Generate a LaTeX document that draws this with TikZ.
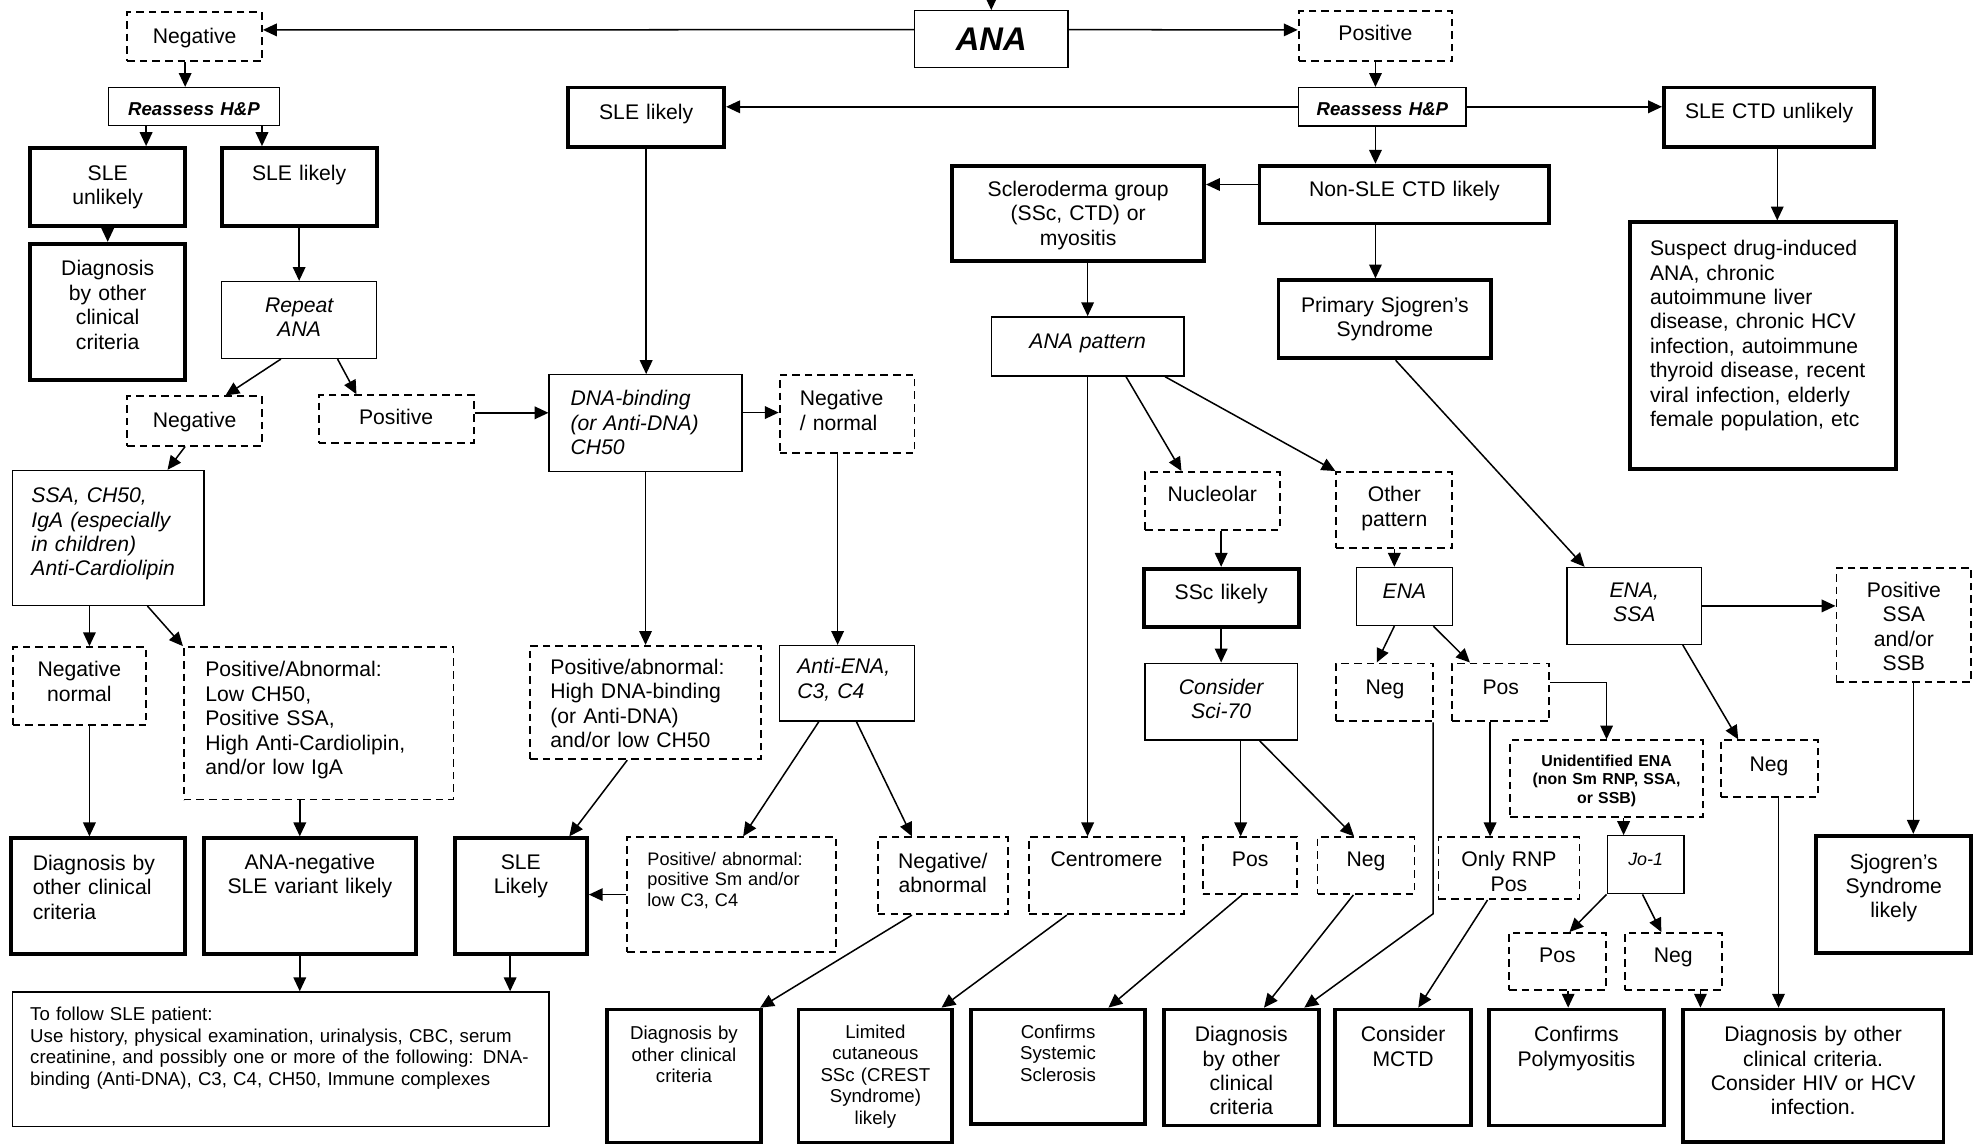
\documentclass[tikz,border=0pt]{standalone}
\usepackage{fontspec}
\setmainfont{Liberation Sans}
\usetikzlibrary{arrows.meta}

\begin{document}
\begin{tikzpicture}[x = 0.5pt, y = -0.5pt,
    box/.style = {draw, line width = 0.55pt, inner sep = 0pt, anchor = north, align = center,
        font = \fontsize{8.4}{9.7}\selectfont},
    boldbox/.style = {box, line width = 1.5pt},
    dashbox/.style = {box, line width = 0.75pt, dash pattern = on 3pt off 2pt},
    dims/.style n args = {3}{text width = #1, text height = #2, text depth = #3},
    it/.style = {font = \fontsize{8.4}{9.7}\selectfont\itshape},
    sm/.style = {font = \fontsize{7.4}{8.5}\selectfont},
    hp/.style = {font = \fontsize{7.4}{8.5}\selectfont\bfseries\itshape},
    arr/.style = {-{Triangle[length = 5.5pt, width = 5pt]}, line width = 0.6pt}]
    \useasboundingbox (0,0) rectangle (1568,908);

    \coordinate (start) at (787,0);
    \node (ana) at (787,8) [box, dims = {61pt}{15.6pt}{6.9pt}, font = \fontsize{13}{15}\selectfont\bfseries\itshape] {ANA};
    \node (negtop) at (154.5,9) [dashbox, dims = {53.5pt}{12.25pt}{7.25pt}] {Negative};
    \node (postop) at (1092,8) [dashbox, dims = {61pt}{11.75pt}{8.25pt}] {Positive};
    \node (reasl) at (154,69) [box, hp, dims = {68pt}{11pt}{4pt}] {Reassess H\&P};
    \node (reasr) at (1097.5,69) [box, hp, dims = {66.5pt}{11pt}{4.25pt}] {Reassess H\&P};
    \node (slelc) at (513,68) [boldbox, dims = {62pt}{12.75pt}{10.75pt}] {SLE likely};
    \node (slectd) at (1404.5,68) [boldbox, dims = {83.5pt}{12.25pt}{11.25pt}] {SLE CTD unlikely};

    \node (sleun) at (85.5,116) [boldbox, dims = {61.5pt}{12.75pt}{18.25pt}] {SLE\\unlikely};
    \node (slell) at (237.5,116) [boldbox, dims = {61.5pt}{12.75pt}{18.25pt}] {SLE likely};
    \node (diagl) at (85.5,192) [boldbox, dims = {61.5pt}{12.75pt}{41.25pt}] {Diagnosis\\by other\\clinical\\criteria};
    \node (repeat) at (237.5,223) [box, it, dims = {61.5pt}{12.25pt}{18.25pt}] {Repeat\\ANA};
    \node (negmid) at (154.5,314) [dashbox, dims = {53.5pt}{12.25pt}{7.25pt}] {Negative};
    \node (posmid) at (314.5,313) [dashbox, dims = {61.5pt}{11.75pt}{7.25pt}] {Positive};
    \node (dna) at (512.5,297) [box, it, align = left, inner xsep = 8.5pt, dims = {59.5pt}{12.25pt}{26.25pt}] {DNA-binding\\(or Anti-DNA)\\CH50};
    \node (negnorm) at (672.5,297) [dashbox, align = left, inner xsep = 8pt, dims = {37.5pt}{12.25pt}{18.75pt}] {Negative\\/ normal};
    \node (ssa) at (86,373) [box, it, align = left, inner xsep = 7.5pt, dims = {61pt}{12.75pt}{40.75pt}] {SSA, CH50,\\IgA (especially\\in children)\\Anti-Cardiolipin};
    \node (negnormal) at (63,513) [dashbox, dims = {53pt}{11.75pt}{19.25pt}] {Negative\\normal};
    \node (posabn) at (253,513) [dashbox, align = left, inner xsep = 8.5pt, dims = {90pt}{11.75pt}{48.75pt}] {Positive/Abnormal:\\Low CH50,\\Positive SSA,\\High Anti-Cardiolipin,\\and/or low IgA};
    \node (posdna) at (512.5,512) [dashbox, align = left, inner xsep = 8pt, dims = {75.5pt}{11.25pt}{33.75pt}] {Positive/abnormal:\\High DNA-binding\\(or Anti-DNA)\\and/or low CH50};
    \node (antiena) at (672.5,512) [box, it, align = left, inner xsep = 7pt, dims = {39.5pt}{11.25pt}{18.75pt}] {Anti-ENA,\\C3, C4};

    \node (diagbl) at (78,664) [boldbox, align = left, inner xsep = 8.5pt, dims = {52pt}{12.75pt}{33.25pt}] {Diagnosis by\\other clinical\\criteria};
    \node (ananeg) at (246,664) [boldbox, dims = {84pt}{12.25pt}{33.75pt}] {ANA-negative\\SLE variant likely};
    \node (slelk) at (413.5,664) [boldbox, dims = {52.5pt}{12.25pt}{33.75pt}] {SLE\\Likely};
    \node (possm) at (581,664) [dashbox, align = left, inner xsep = 8pt, dims = {67pt}{11pt}{34.5pt}, font = \fontsize{7.2}{8.3}\selectfont] {Positive/ abnormal:\\positive Sm and/or\\low C3, C4};
    \node (negabn) at (748.5,664) [dashbox, dims = {51.5pt}{12.25pt}{18.25pt}] {Negative/\\abnormal};
    \node (centro) at (878.5,664) [dashbox, dims = {61.5pt}{11.75pt}{18.75pt}] {Centromere};
    \node (posci) at (992.5,664) [dashbox, dims = {37.5pt}{11.75pt}{10.75pt}] {Pos};
    \node (negsci) at (1084.5,664) [dashbox, dims = {38.5pt}{11.75pt}{10.75pt}] {Neg};
    \node (onlyrnp) at (1198,664) [dashbox, dims = {56pt}{11.75pt}{12.75pt}] {Only RNP\\Pos};
    \node (jo1) at (1306.5,663) [box, dims = {30.5pt}{11.75pt}{11.25pt}, font = \fontsize{7.1}{8}\selectfont\itshape] {Jo-1};
    \node (posjo) at (1236.5,740) [dashbox, dims = {38.5pt}{11.75pt}{10.75pt}] {Pos};
    \node (negjo) at (1328.5,740) [dashbox, dims = {38.5pt}{11.75pt}{10.75pt}] {Neg};
    \node (sjolk) at (1503.5,662) [boldbox, dims = {61.5pt}{13.25pt}{33.25pt}] {Sjogren’s\\Syndrome\\likely};

    \node (follow) at (223,787) [box, sm, align = left, inner xsep = 7pt, dims = {199pt}{11.5pt}{42pt}] {To follow SLE patient:\\Use history, physical examination, urinalysis, CBC, serum\\creatinine, and possibly one or more of the following: DNA-\\binding (Anti-DNA), C3, C4, CH50, Immune complexes};
    \node (diagb2) at (543,800) [boldbox, sm, dims = {61pt}{12pt}{41pt}] {Diagnosis by\\other clinical\\criteria};
    \node (limited) at (695,800) [boldbox, sm, dims = {61pt}{11.5pt}{41.5pt}] {Limited\\cutaneous\\SSc (CREST\\Syndrome)\\likely};
    \node (confss) at (840,800) [boldbox, sm, dims = {69pt}{11.5pt}{34pt}] {Confirms\\Systemic\\Sclerosis};
    \node (diagb4) at (985.5,800) [boldbox, dims = {61.5pt}{12.75pt}{33.25pt}] {Diagnosis\\by other\\clinical\\criteria};
    \node (mctd) at (1114,800) [boldbox, dims = {54pt}{12.75pt}{33.25pt}] {Consider\\MCTD};
    \node (confpm) at (1251.5,800) [boldbox, dims = {69.5pt}{12.75pt}{33.25pt}] {Confirms\\Polymyositis};
    \node (diaghiv) at (1439.5,800) [boldbox, dims = {103.5pt}{12.75pt}{39.75pt}] {Diagnosis by other\\clinical criteria.\\Consider HIV or HCV\\infection.};

    \node (nonsle) at (1115,130) [boldbox, dims = {115pt}{12.25pt}{10.75pt}] {Non-SLE CTD likely};
    \node (sclero) at (856,130) [boldbox, dims = {100pt}{12.25pt}{25.75pt}] {Scleroderma group\\(SSc, CTD) or\\myositis};
    \node (anapat) at (863.5,251) [box, it, dims = {76.5pt}{12.75pt}{10.75pt}] {ANA pattern};
    \node (primsj) at (1099.5,221) [boldbox, dims = {84.5pt}{12.75pt}{18.25pt}] {Primary Sjogren’s\\Syndrome};
    \node (suspect) at (1399.5,175) [boldbox, align = left, inner xsep = 8pt, dims = {89.5pt}{13.25pt}{84.75pt}] {Suspect drug-induced\\ANA, chronic\\autoimmune liver\\disease, chronic HCV\\infection, autoimmune\\thyroid disease, recent\\viral infection, elderly\\female population, etc};
    \node (nucleo) at (962.5,374) [dashbox, dims = {53.5pt}{11.75pt}{11.25pt}] {Nucleolar};
    \node (other) at (1107,374) [dashbox, dims = {46pt}{11.75pt}{18.25pt}] {Other\\pattern};
    \node (ssclk) at (969.5,450) [boldbox, dims = {61.5pt}{12.25pt}{10.75pt}] {SSc likely};
    \node (sci70) at (969.5,526) [box, it, dims = {60.5pt}{12.25pt}{18.25pt}] {Consider\\Sci-70};
    \node (ena) at (1115,450) [box, it, dims = {38pt}{12.25pt}{10.75pt}] {ENA};
    \node (negena) at (1099.5,526) [dashbox, dims = {38.5pt}{12.25pt}{10.75pt}] {Neg};
    \node (posena) at (1191.5,526) [dashbox, dims = {38.5pt}{12.25pt}{10.75pt}] {Pos};
    \node (unid) at (1275.5,587) [dashbox, dims = {76.5pt}{10.25pt}{20.25pt}, font = \fontsize{6.3}{7.4}\selectfont\bfseries] {Unidentified ENA\\(non Sm RNP, SSA,\\or SSB)};
    \node (enassa) at (1297.5,450) [box, it, dims = {53.5pt}{11.75pt}{18.75pt}] {ENA,\\SSA};
    \node (posssa) at (1511.5,450) [dashbox, dims = {53.5pt}{11.75pt}{33.75pt}] {Positive\\SSA\\and/or\\SSB};
    \node (negssa) at (1404.5,587) [dashbox, dims = {38.5pt}{12.25pt}{10.25pt}] {Neg};

    \draw [arr] (start) -- (ana.north);
    \draw [arr] ([yshift = 3.75pt]ana.west) -- ([yshift = 2.75pt]negtop.east);
    \draw [arr] ([yshift = 3.75pt]ana.east) -- ([yshift = 2.5pt]postop.west);
    \draw [arr] ([xshift = -3.75pt]negtop.south) -- ([xshift = -3.75pt]negtop.south |- reasl.north);
    \draw [arr] (postop.south) -- (postop.south |- reasr.north);
    \draw [arr] ([xshift = -19pt]reasl.south) -- ([xshift = -19pt]reasl.south |- sleun.north);
    \draw [arr] ([xshift = 27pt]reasl.south) -- ([xshift = 27pt]reasl.south |- slell.north);
    \draw [arr] (sleun.south) -- (diagl.north);
    \draw [arr] (slell.south) -- (repeat.north);
    \draw [arr] ([xshift = -7.25pt]repeat.south) -- ([xshift = 12.25pt]negmid.north);
    \draw [arr] ([xshift = 15.25pt]repeat.south) -- ([xshift = -15.75pt]posmid.north);
    \draw [arr] ([yshift = 2.5pt]posmid.east) -- ([yshift = 2.5pt]posmid.east -| dna.west);
    \draw [arr] ([yshift = 4.25pt]dna.east) -- ([yshift = 4.25pt]dna.east -| negnorm.west);
    \draw [arr] (slelc.south) -- (slelc.south |- dna.north);
    \draw [arr] ([xshift = -3.75pt]negmid.south) -- ([xshift = 23.5pt]ssa.north);
    \draw [arr] ([xshift = -7.5pt]ssa.south) -- ([xshift = -7.5pt]ssa.south |- negnormal.north);
    \draw [arr] ([xshift = 15.5pt]ssa.south) -- (posabn.north west);
    \draw [arr] (dna.south) -- (posdna.north);
    \draw [arr] ([xshift = -3.75pt]negnorm.south) -- ([xshift = -3.75pt]antiena.north);
    \draw [arr] ([xshift = 4pt]negnormal.south) -- ([xshift = 4pt]negnormal.south |- diagbl.north);
    \draw [arr] ([xshift = -4pt]ananeg.north |- posabn.south) -- ([xshift = -4pt]ananeg.north);
    \draw [arr] ([xshift = -7.25pt]posdna.south) -- ([xshift = 19.25pt]slelk.north);
    \draw [arr] (possm.west) -- (possm.west -| slelk.east);
    \draw [arr] ([xshift = -11.25pt]antiena.south) -- ([xshift = 4.5pt]possm.north);
    \draw [arr] ([xshift = 3.75pt]antiena.south) -- ([xshift = -12.25pt]negabn.north);
    \draw [arr] ([xshift = -4pt]ananeg.south) -- ([xshift = -4pt]ananeg.south |- follow.north);
    \draw [arr] ([xshift = -4.25pt]slelk.south) -- ([xshift = -4.25pt]slelk.south |- follow.north);
    \draw [arr] ([xshift = -12.25pt]negabn.south) -- ([xshift = -1pt]diagb2.north east);
    \draw [arr] ([xshift = -15.75pt]centro.south) -- ([xshift = -5pt]limited.north east);

    \draw [arr] (reasr.west) -- (reasr.west -| slelc.east);
    \draw [arr] (reasr.east) -- (reasr.east -| slectd.west);
    \draw [arr] ([xshift = -2.75pt]reasr.south) -- ([xshift = -2.75pt]reasr.south |- nonsle.north);
    \draw [arr] ([yshift = 4pt]nonsle.west) -- ([yshift = 4pt]nonsle.west -| sclero.east);
    \draw [arr] ([xshift = -11.5pt]nonsle.south) -- ([xshift = -11.5pt]nonsle.south |- primsj.north);
    \draw [arr] ([xshift = 3.25pt]slectd.south) -- ([xshift = 3.25pt]slectd.south |- suspect.north);
    \draw [arr] (anapat.north |- sclero.south) -- (anapat.north);
    \draw [arr] (anapat.south) -- (anapat.south |- centro.north);
    \draw [arr] ([xshift = 15.25pt]anapat.south) -- ([xshift = -12.25pt]nucleo.north);
    \draw [arr] ([xshift = 30.75pt]anapat.south) -- (other.north west);
    \draw [arr] ([xshift = 3.5pt]nucleo.south) -- ([xshift = 3.5pt]nucleo.south |- ssclk.north);
    \draw [arr] (ssclk.south) -- (sci70.north);
    \draw [arr] ([xshift = 7.75pt]sci70.south) -- ([xshift = 7.75pt]sci70.south |- posci.north);
    \draw [arr] ([xshift = 15.25pt]sci70.south) -- ([xshift = -4.75pt]negsci.north);
    \draw [arr] (other.south) -- (other.south |- ena.north);
    \draw [arr] ([xshift = -4pt]ena.south) -- ([xshift = -3.25pt]negena.north);
    \draw [arr] ([xshift = 11.5pt]ena.south) -- ([xshift = -12.25pt]posena.north);
    \draw [arr] ([xshift = -0.5pt]negena.south east) -- ++(0,152) -- ([xshift = -6.5pt]diagb4.north east);
    \draw [arr] ([xshift = -5pt]negsci.south) -- ([xshift = 9pt]diagb4.north);
    \draw [arr] ([xshift = -3.25pt]posci.south) -- ([xshift = 20pt]confss.north);
    \draw [arr] ([xshift = -4.25pt]posena.south) -- ([xshift = -4.25pt]posena.south |- onlyrnp.north);
    \draw [arr] ([yshift = 4pt]posena.east) -| (unid.north);
    \draw [arr] ([xshift = 6.75pt]unid.south) -- ([xshift = 6.75pt]unid.south |- jo1.north);
    \draw [arr] (jo1.south west) -- ([xshift = 4.75pt]posjo.north);
    \draw [arr] ([xshift = -1.25pt]jo1.south) -- ([xshift = -4.75pt]negjo.north);
    \draw [arr] ([xshift = 4.25pt]posjo.south) -- ([xshift = 4.25pt]posjo.south |- confpm.north);
    \draw [arr] ([xshift = 10.75pt]negjo.south) -- ([xshift = 10.75pt]negjo.south |- diaghiv.north);
    \draw [arr] ([xshift = -8.5pt]onlyrnp.south) -- ([xshift = 6pt]mctd.north);
    \draw [arr] ([xshift = 4.25pt]primsj.south) -- ([xshift = -19.75pt]enassa.north);
    \draw [arr] (enassa.east) -- (enassa.east -| posssa.west);
    \draw [arr] ([xshift = 19.25pt]enassa.south) -- ([xshift = -12.25pt]negssa.north);
    \draw [arr] ([xshift = 3.75pt]negssa.south) -- ([xshift = 3.75pt]negssa.south |- diaghiv.north);
    \draw [arr] ([xshift = 3.75pt]posssa.south) -- ([xshift = 3.75pt]posssa.south |- sjolk.north);
\end{tikzpicture}
\end{document}
